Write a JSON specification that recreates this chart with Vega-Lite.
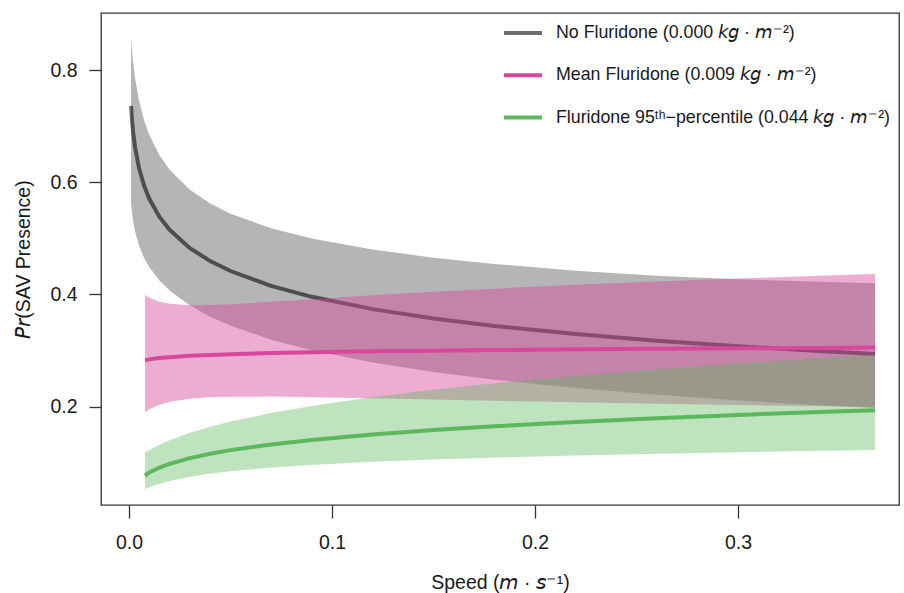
{
  "$schema": "https://vega.github.io/schema/vega-lite/v6.json",
  "width": 798,
  "height": 492,
  "autosize": {"type": "none"},
  "padding": {"left": 101, "top": 13, "right": 5, "bottom": 88},
  "background": "white",
  "config": {
    "font": "Liberation Sans",
    "view": {"stroke": "#333333", "strokeWidth": 1.3},
    "axis": {
      "domain": false,
      "grid": false,
      "labelFont": "Liberation Sans",
      "titleFont": "Liberation Sans",
      "labelFontSize": 19.5,
      "titleFontSize": 19.5,
      "titleFontWeight": "normal",
      "labelColor": "#1a1a1a",
      "titleColor": "#1a1a1a",
      "tickColor": "#333333",
      "tickWidth": 1.3
    }
  },
  "data": {
    "values": [
      {"s": "none", "x": 0.001, "lo": 0.563, "mid": 0.736, "hi": 0.8578},
      {"s": "none", "x": 0.0015, "lo": 0.5447, "mid": 0.7098, "hi": 0.8333},
      {"s": "none", "x": 0.002, "lo": 0.5314, "mid": 0.6904, "hi": 0.8143},
      {"s": "none", "x": 0.003, "lo": 0.5119, "mid": 0.6618, "hi": 0.785},
      {"s": "none", "x": 0.005, "lo": 0.4862, "mid": 0.6241, "hi": 0.7444},
      {"s": "none", "x": 0.0075, "lo": 0.4647, "mid": 0.593, "hi": 0.7098},
      {"s": "none", "x": 0.01, "lo": 0.4486, "mid": 0.5705, "hi": 0.6844},
      {"s": "none", "x": 0.015, "lo": 0.4248, "mid": 0.5383, "hi": 0.6479},
      {"s": "none", "x": 0.02, "lo": 0.407, "mid": 0.5152, "hi": 0.6221},
      {"s": "none", "x": 0.03, "lo": 0.3803, "mid": 0.4826, "hi": 0.5864},
      {"s": "none", "x": 0.04, "lo": 0.3604, "mid": 0.4595, "hi": 0.562},
      {"s": "none", "x": 0.05, "lo": 0.3444, "mid": 0.4418, "hi": 0.5439},
      {"s": "none", "x": 0.07, "lo": 0.3195, "mid": 0.4153, "hi": 0.5179},
      {"s": "none", "x": 0.09, "lo": 0.3005, "mid": 0.3958, "hi": 0.4997},
      {"s": "none", "x": 0.12, "lo": 0.2786, "mid": 0.3739, "hi": 0.48},
      {"s": "none", "x": 0.15, "lo": 0.2617, "mid": 0.3572, "hi": 0.4656},
      {"s": "none", "x": 0.18, "lo": 0.248, "mid": 0.3438, "hi": 0.4543},
      {"s": "none", "x": 0.22, "lo": 0.2332, "mid": 0.3294, "hi": 0.4424},
      {"s": "none", "x": 0.26, "lo": 0.2212, "mid": 0.3177, "hi": 0.4335},
      {"s": "none", "x": 0.3, "lo": 0.211, "mid": 0.3078, "hi": 0.427},
      {"s": "none", "x": 0.34, "lo": 0.2024, "mid": 0.2993, "hi": 0.4225},
      {"s": "none", "x": 0.3675, "lo": 0.1975, "mid": 0.294, "hi": 0.42},
      {"s": "mean", "x": 0.0079, "lo": 0.1899, "mid": 0.2829, "hi": 0.399},
      {"s": "mean", "x": 0.01, "lo": 0.1953, "mid": 0.2843, "hi": 0.394},
      {"s": "mean", "x": 0.015, "lo": 0.2036, "mid": 0.2866, "hi": 0.387},
      {"s": "mean", "x": 0.02, "lo": 0.2087, "mid": 0.2882, "hi": 0.3834},
      {"s": "mean", "x": 0.03, "lo": 0.2141, "mid": 0.2906, "hi": 0.381},
      {"s": "mean", "x": 0.04, "lo": 0.2167, "mid": 0.2922, "hi": 0.3813},
      {"s": "mean", "x": 0.05, "lo": 0.2177, "mid": 0.2935, "hi": 0.3827},
      {"s": "mean", "x": 0.07, "lo": 0.218, "mid": 0.2955, "hi": 0.387},
      {"s": "mean", "x": 0.09, "lo": 0.217, "mid": 0.297, "hi": 0.3916},
      {"s": "mean", "x": 0.12, "lo": 0.2149, "mid": 0.2986, "hi": 0.3984},
      {"s": "mean", "x": 0.15, "lo": 0.2127, "mid": 0.2999, "hi": 0.4047},
      {"s": "mean", "x": 0.18, "lo": 0.2104, "mid": 0.301, "hi": 0.4103},
      {"s": "mean", "x": 0.22, "lo": 0.2077, "mid": 0.3022, "hi": 0.4171},
      {"s": "mean", "x": 0.26, "lo": 0.2052, "mid": 0.3032, "hi": 0.4231},
      {"s": "mean", "x": 0.3, "lo": 0.2029, "mid": 0.304, "hi": 0.4284},
      {"s": "mean", "x": 0.34, "lo": 0.2008, "mid": 0.3048, "hi": 0.4333},
      {"s": "mean", "x": 0.3675, "lo": 0.1995, "mid": 0.3055, "hi": 0.4365},
      {"s": "p95", "x": 0.0079, "lo": 0.0535, "mid": 0.077, "hi": 0.119},
      {"s": "p95", "x": 0.01, "lo": 0.0563, "mid": 0.0827, "hi": 0.1225},
      {"s": "p95", "x": 0.015, "lo": 0.0628, "mid": 0.0915, "hi": 0.1322},
      {"s": "p95", "x": 0.02, "lo": 0.0677, "mid": 0.0982, "hi": 0.1403},
      {"s": "p95", "x": 0.03, "lo": 0.0753, "mid": 0.1084, "hi": 0.1535},
      {"s": "p95", "x": 0.04, "lo": 0.0808, "mid": 0.1162, "hi": 0.1643},
      {"s": "p95", "x": 0.05, "lo": 0.0851, "mid": 0.1226, "hi": 0.1734},
      {"s": "p95", "x": 0.07, "lo": 0.0915, "mid": 0.1328, "hi": 0.1887},
      {"s": "p95", "x": 0.09, "lo": 0.0963, "mid": 0.1408, "hi": 0.2013},
      {"s": "p95", "x": 0.12, "lo": 0.1018, "mid": 0.1506, "hi": 0.2171},
      {"s": "p95", "x": 0.15, "lo": 0.106, "mid": 0.1585, "hi": 0.2304},
      {"s": "p95", "x": 0.18, "lo": 0.1094, "mid": 0.1652, "hi": 0.2418},
      {"s": "p95", "x": 0.22, "lo": 0.1131, "mid": 0.1729, "hi": 0.2551},
      {"s": "p95", "x": 0.26, "lo": 0.1163, "mid": 0.1795, "hi": 0.2667},
      {"s": "p95", "x": 0.3, "lo": 0.119, "mid": 0.1853, "hi": 0.2769},
      {"s": "p95", "x": 0.34, "lo": 0.1213, "mid": 0.1905, "hi": 0.2862},
      {"s": "p95", "x": 0.3675, "lo": 0.1228, "mid": 0.1938, "hi": 0.2921}
    ]
  },
  "encoding": {
    "x": {
      "field": "x",
      "type": "quantitative",
      "scale": {"domain": [-0.0138, 0.3793], "nice": false, "zero": false},
      "axis": {
        "values": [0, 0.1, 0.2, 0.3],
        "format": ".1f",
        "tickSize": 13,
        "labelPadding": 15,
        "title": "Speed (𝘮 · 𝘴⁻¹)",
        "titlePadding": 22
      }
    }
  },
  "layer": [
    {
      "transform": [{"filter": "datum.s == 'none'"}],
      "mark": {"type": "area", "fill": "rgba(0,0,0,0.29)"},
      "encoding": {
        "y": {"field": "lo", "type": "quantitative", "scale": {"domain": [0.0248, 0.9016], "nice": false, "zero": false},
              "axis": {"values": [0.2, 0.4, 0.6, 0.8], "format": ".1f", "tickSize": 12, "labelPadding": 12, "title": "𝘗𝘳(SAV Presence)", "titlePadding": 16}},
        "y2": {"field": "hi"}
      }
    },
    {
      "transform": [{"filter": "datum.s == 'none'"}],
      "mark": {"type": "line", "strokeWidth": 4},
      "encoding": {
        "y": {"field": "mid", "type": "quantitative"},
        "stroke": {"field": "s", "type": "nominal",
                   "scale": {"domain": ["none", "mean", "p95"], "range": ["rgba(0,0,0,0.57)", "#d8479c", "#5cb85c"]},
                   "legend": {
                     "orient": "none", "legendX": 401, "legendY": -1, "title": null,
                     "symbolType": "stroke", "symbolSize": 1444, "symbolStrokeWidth": 4,
                     "labelFontSize": 17.8, "labelFont": "Liberation Sans", "labelColor": "#1a1a1a", "labelOffset": 12, "rowPadding": 12.3,
                     "labelLimit": 500,
                     "labelExpr": "datum.label == 'none' ? 'No Fluridone (0.000 𝘬𝘨 · 𝘮⁻²)' : datum.label == 'mean' ? 'Mean Fluridone (0.009 𝘬𝘨 · 𝘮⁻²)' : 'Fluridone 95ᵗʰ−percentile (0.044 𝘬𝘨 · 𝘮⁻²)'"
                   }}
      }
    },
    {
      "transform": [{"filter": "datum.s == 'mean'"}],
      "mark": {"type": "area", "fill": "rgba(216,71,156,0.45)"},
      "encoding": {
        "y": {"field": "lo", "type": "quantitative"},
        "y2": {"field": "hi"}
      }
    },
    {
      "transform": [{"filter": "datum.s == 'mean'"}],
      "mark": {"type": "line", "strokeWidth": 4},
      "encoding": {
        "y": {"field": "mid", "type": "quantitative"},
        "stroke": {"field": "s", "type": "nominal"}
      }
    },
    {
      "transform": [{"filter": "datum.s == 'p95'"}],
      "mark": {"type": "area", "fill": "rgba(92,184,92,0.4)"},
      "encoding": {
        "y": {"field": "lo", "type": "quantitative"},
        "y2": {"field": "hi"}
      }
    },
    {
      "transform": [{"filter": "datum.s == 'p95'"}],
      "mark": {"type": "line", "strokeWidth": 4},
      "encoding": {
        "y": {"field": "mid", "type": "quantitative"},
        "stroke": {"field": "s", "type": "nominal"}
      }
    }
  ]
}
